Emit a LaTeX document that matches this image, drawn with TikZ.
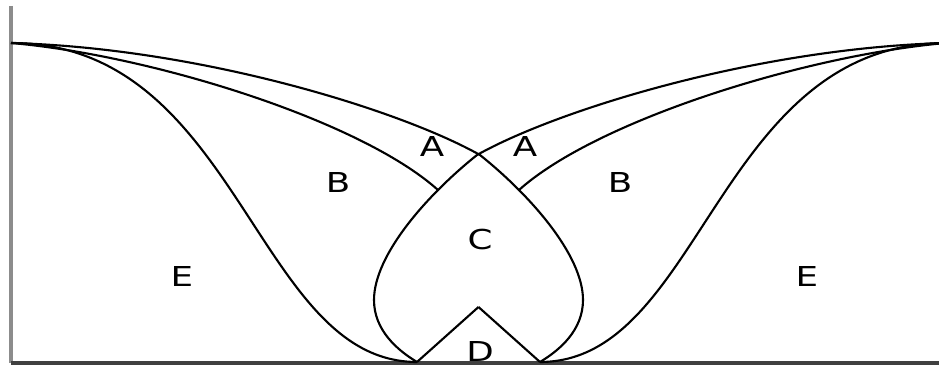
\documentclass[tikz,border=0pt]{standalone}
\usepackage{fontspec}
\newfontfamily\regionfont[FakeStretch=1.3]{DejaVu Sans}

\begin{document}
\begin{tikzpicture}[
    x=0.01cm, y=-0.01cm,
    boundary/.style={draw=black, line width=0.6pt},
    axisline/.style={line width=1pt},
    region/.style={font=\regionfont\fontsize{7.8}{8}\selectfont, inner sep=0pt}
]
\clip (0,0) rectangle (939,367);

% Axes
\draw[axisline, draw=black!45] (11,6) -- (11,363);
\draw[axisline, draw=black!75] (11,363) -- (939,363);

% Left half of the boundaries, mirrored for the right half
\foreach \side/\flip in {0/1, 957/-1} {
  \begin{scope}[shift={(\side,0)}, xscale=\flip]
    \coordinate (apex)  at (11,43);
    \coordinate (cross) at (480,155);
    \coordinate (foot)  at (540,362);
    \coordinate (inner) at (438,190);
    \coordinate (base)  at (417,362);
    \coordinate (notch) at (478.5,307);
    % outer curve through the crossing, round the C lobe
    \draw[boundary] (apex) .. controls (200,48) and (400,110) .. (cross)
        .. controls (530,195) and (583,255) .. (583,300)
        .. controls (583,330) and (560,350) .. (foot);
    % A / B boundary
    \draw[boundary] (apex) .. controls (150,55) and (360,120) .. (inner);
    % B / E boundary
    \draw[boundary] (apex) .. controls (240,43) and (255,362) .. (base);
    % notch over D
    \draw[boundary] (base) -- (notch);
  \end{scope}
}

% Region labels
\node[region] (aL) at (432,147) {A};
\node[region] (aR) at (525,147) {A};
\node[region] (bL) at (338,183) {B};
\node[region] (bR) at (620,183) {B};
\node[region] (c)  at (480,240) {C};
\node[region] (d)  at (480,352) {D};
\node[region] (eL) at (182,277) {E};
\node[region] (eR) at (807,277) {E};

\end{tikzpicture}
\end{document}
